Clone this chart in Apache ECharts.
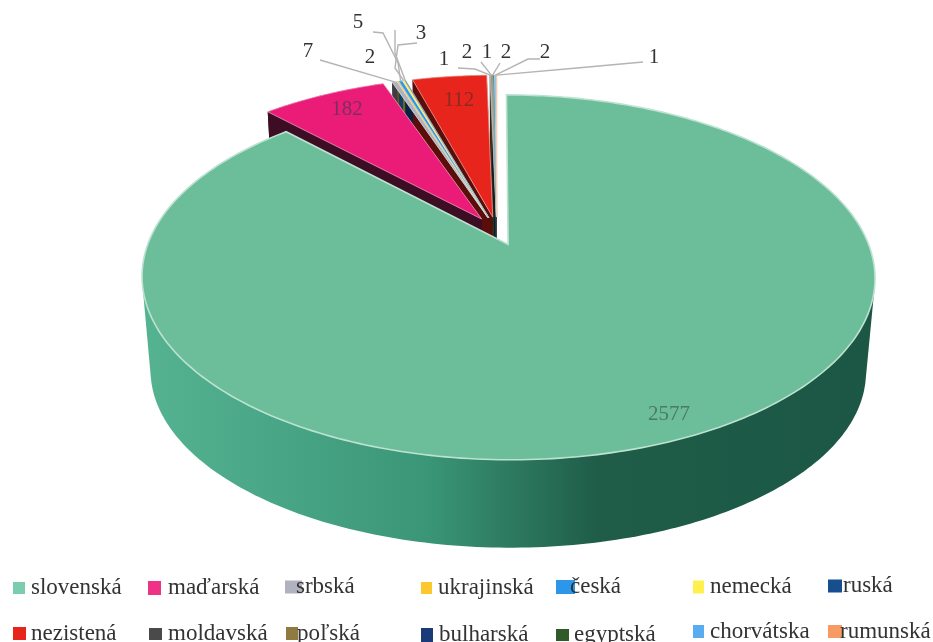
<!DOCTYPE html>
<html>
<head>
<meta charset="utf-8">
<script src="https://cdn.jsdelivr.net/npm/echarts@6/dist/echarts.min.js"></script>
<style>
  html, body { margin: 0; background: #fff; }
  #chart { width: 933px; height: 642px; }
</style>
</head>
<body>
<div id="chart"></div>
<script>
const categories = ['slovenská', 'maďarská', 'srbská', 'ukrajinská', 'česká', 'nemecká', 'ruská',
  'nezistená', 'moldavská', 'poľská', 'bulharská', 'egyptská', 'chorvátska', 'rumunská']
const values = [2577, 182, 7, 2, 5, 3, 1, 112, 1, 2, 1, 2, 2, 1]
// ruská has a leader line but its number is cut off in the picture
const shownLabels = ['2577', '182', '7', '2', '5', '3', '', '112', '1', '2', '1', '2', '2', '1']
const colors = ['#6cbe9a', '#ea1c78', '#b0b2c0', '#fdc82f', '#2b96ea', '#fff04e', '#174f8e',
  '#e8251c', '#4a4a4a', '#8f7b3f', '#1a3a78', '#2f5a2a', '#5aacf0', '#f79a63']
const wallColors = ['#3a9677', '#3d0d24', '#3c3d45', '#6b5410', '#0f3f66', '#6b6520', '#0a2140',
  '#5a0e0a', '#222222', '#3d3419', '#0b1832', '#142612', '#264a66', '#69412a']
const legendColors = ['#7ccdb0', '#ee3386', '#b0b2c0', '#fdc82f', '#2b96ea', '#fff04e', '#174f8e',
  '#e8251c', '#4a4a4a', '#8f7b3f', '#1a3a78', '#2f5a2a', '#5aacf0', '#f79a63']

// legend layout: swatch x, swatch y, swatch w, swatch h, text x, text middle y
const legendSpots = [
  [13, 581, 12, 12, 31, 587], [148, 579, 13, 14, 168, 587], [285, 579, 17, 13, 296, 586], [421, 579, 11, 12, 438, 587],
  [556, 578, 19, 14, 570, 586], [693, 578, 11, 13, 710, 586], [828, 578, 14, 13, 843, 585],
  [13, 627, 13, 13, 31, 631], [149, 628, 13, 12, 168, 631], [286, 627, 12, 13, 297, 630], [421, 626, 12, 14, 439, 634],
  [556, 626, 13, 12, 574, 634], [693, 625, 11, 13, 710, 628], [828, 625, 14, 13, 840, 628]
]
// label anchors for the numbers and where their leader lines start
const labelSpots = [
  [669, 414], [347, 109], [308, 51], [370, 57], [358, 22], [421, 33], [395, 20],
  [459, 100], [444, 59], [467, 52], [487, 52], [506, 52], [545, 52], [654, 57]
]
const leaders = [
  null, null,
  [[320, 60]], null,
  [[373, 32], [383, 33], [398, 63]],
  [[417, 43], [398, 45], [395, 68]],
  [[395, 30], [395, 53]],
  null,
  [[458, 68], [475, 69]],
  [[481, 62]],
  [[500, 63]],
  null,
  [[540, 59], [528, 59]],
  [[643, 62], [577, 68]]
]

const centerX = 497
const explode = 0.083
const perspective = 0.178
const topPlane = { x: centerX, y: 231, a: 355.5, b: 171.7 }
const bottomPlane = { x: centerX, y: 326.5, a: 347, b: 166 }
const total = values.reduce((s, v) => s + v, 0)

// slice edges in degrees, clockwise from the top
let running = 0
const starts = values.map(v => {
  const s = running
  running += v / total * 360
  return s
})

// the photographed pie is slightly foreshortened around its diagonals
function warp(deg) {
  return deg + 4 * Math.sin(2 * deg * Math.PI / 180)
}

function project(plane, u, v) {
  const w = 1 - perspective * v
  return [plane.x + plane.a * u / w, plane.y + plane.b * v / w]
}

// white gap around the thin slices between maďarská and nezistená
function edgeShift(index) {
  return index >= 2 && index <= 6 ? 0.7 : 0
}

function sliceShape(index) {
  const from = warp(starts[index]) + edgeShift(index) + (index === 7 ? 1.4 : 0)
  const to = warp(starts[index] + values[index] / total * 360) + edgeShift(index)
  const mid = (from + to) / 2 * Math.PI / 180
  const ex = explode * Math.sin(mid)
  const ey = -explode * Math.cos(mid)
  const rim = (plane, deg) => {
    const t = deg * Math.PI / 180
    return project(plane, ex + Math.sin(t), ey - Math.cos(t))
  }
  const arc = plane => {
    const pts = []
    const n = Math.max(2, Math.ceil(to - from))
    for (let i = 0; i <= n; i++) pts.push(rim(plane, from + (to - from) * i / n))
    return pts
  }
  return {
    apexTop: project(topPlane, ex, ey),
    apexBottom: project(bottomPlane, ex, ey),
    arcTop: arc(topPlane),
    arcBottom: arc(bottomPlane),
    rimMid: rim(topPlane, (from + to) / 2)
  }
}

function lighten(hex) {
  const n = parseInt(hex.slice(1), 16)
  const mix = c => Math.round(c + (255 - c) * 0.55)
  return 'rgb(' + mix(n >> 16) + ',' + mix((n >> 8) & 255) + ',' + mix(n & 255) + ')'
}

// convex outline of a point list, used for the front wall of the big slice
function convexHull(points) {
  const pts = points.slice().sort((p, q) => p[0] - q[0] || p[1] - q[1])
  const cross = (o, a, b) => (a[0] - o[0]) * (b[1] - o[1]) - (a[1] - o[1]) * (b[0] - o[0])
  const half = list => {
    const out = []
    list.forEach(p => {
      while (out.length > 1 && cross(out[out.length - 2], out[out.length - 1], p) <= 0) out.pop()
      out.push(p)
    })
    out.pop()
    return out
  }
  return half(pts).concat(half(pts.slice().reverse()))
}

function wallParts(index) {
  const s = sliceShape(index)
  const last = s.arcTop.length - 1
  if (index === 0) {
    // only the part of the rim that faces the viewer
    const front = s.arcTop.slice(98, 263).concat(s.arcBottom.slice(98, 263))
    return [{
      type: 'polygon',
      shape: { points: convexHull(front) },
      style: {
        fill: {
          type: 'linear', x: 0, y: 0, x2: 1, y2: 0,
          colorStops: [
            { offset: 0, color: '#55b392' },
            { offset: 0.39, color: '#3a9677' },
            { offset: 0.62, color: '#1f5d49' },
            { offset: 1, color: '#1b5744' }
          ]
        }
      }
    }]
  }
  const fill = wallColors[index]
  return [
    { type: 'polygon', shape: { points: [s.apexTop, s.arcTop[0], s.arcBottom[0], s.apexBottom] }, style: { fill: fill } },
    { type: 'polygon', shape: { points: [s.apexTop, s.arcTop[last], s.arcBottom[last], s.apexBottom] }, style: { fill: fill } },
    { type: 'polygon', shape: { points: s.arcTop.concat(s.arcBottom.slice().reverse()) }, style: { fill: fill } }
  ]
}

function topPart(index) {
  const s = sliceShape(index)
  return {
    type: 'polygon',
    shape: { points: [s.apexTop].concat(s.arcTop) },
    style: { fill: colors[index], stroke: lighten(colors[index]), lineWidth: index === 0 ? 1.6 : 0.8 }
  }
}

function renderNote(index) {
  const s = sliceShape(index)
  const children = []
  if (leaders[index]) {
    children.push({
      type: 'polyline',
      shape: { points: leaders[index].concat([s.rimMid]) },
      style: { fill: null, stroke: '#b4b4b4', lineWidth: 1.4 }
    })
  }
  children.push({
    type: 'text',
    style: {
      text: shownLabels[index],
      x: labelSpots[index][0],
      y: labelSpots[index][1],
      align: 'center',
      verticalAlign: 'middle',
      fontFamily: 'Liberation Serif',
      fontSize: 21,
      fill: index === 0 ? '#4a7a68' : index === 1 ? '#7a2f60' : index === 7 ? '#8a2a20' : '#333333'
    }
  })
  return { type: 'group', children: children }
}

// walls first, then the top faces; the big slice sits in front of everything
const sliceSeries = categories.map((name, i) => ({
  type: 'custom',
  name: name,
  coordinateSystem: 'none',
  z: i === 0 ? 5 : i === 1 ? 2 : 1,
  silent: true,
  itemStyle: { color: legendColors[i] },
  data: [[values[i]]],
  renderItem: () => ({
    type: 'group',
    children: i === 0 ? wallParts(0).concat([topPart(0)]) : wallParts(i)
  })
}))

const topSeries = {
  type: 'custom',
  name: 'vrch',
  coordinateSystem: 'none',
  z: 3,
  silent: true,
  data: values.map(v => [v]),
  renderItem: params => (params.dataIndex === 0 ? null : topPart(params.dataIndex))
}

const noteSeries = {
  type: 'custom',
  name: 'popisy',
  coordinateSystem: 'none',
  z: 8,
  silent: true,
  data: values.map(v => [v]),
  renderItem: params => renderNote(params.dataIndex)
}

const legends = categories.map((name, i) => {
  const spot = legendSpots[i]
  const swatchMiddle = spot[1] + spot[3] / 2
  // the legend box grows with the text box, so shift it back to keep the swatch in place
  const offset = swatchMiddle + 3.5 - spot[5]
  const lineBox = 14
  const boxHeight = lineBox + 2 * Math.abs(offset)
  return {
    data: [name],
    left: spot[0],
    top: swatchMiddle - Math.max(boxHeight, spot[3]) / 2,
    padding: 0,
    itemWidth: spot[2],
    itemHeight: spot[3],
    icon: 'rect',
    selectedMode: false,
    textStyle: {
      fontFamily: 'Liberation Serif',
      fontSize: 23,
      lineHeight: lineBox,
      color: '#333333',
      padding: [offset < 0 ? -2 * offset : 0, 0, offset > 0 ? 2 * offset : 0, spot[4] - spot[0] - spot[2] - 5]
    }
  }
})

let myChart = echarts.init(document.getElementById('chart'))
myChart.setOption({
  animation: false,
  backgroundColor: '#ffffff',
  legend: legends,
  series: sliceSeries.concat([topSeries, noteSeries])
})
</script>
</body>
</html>
